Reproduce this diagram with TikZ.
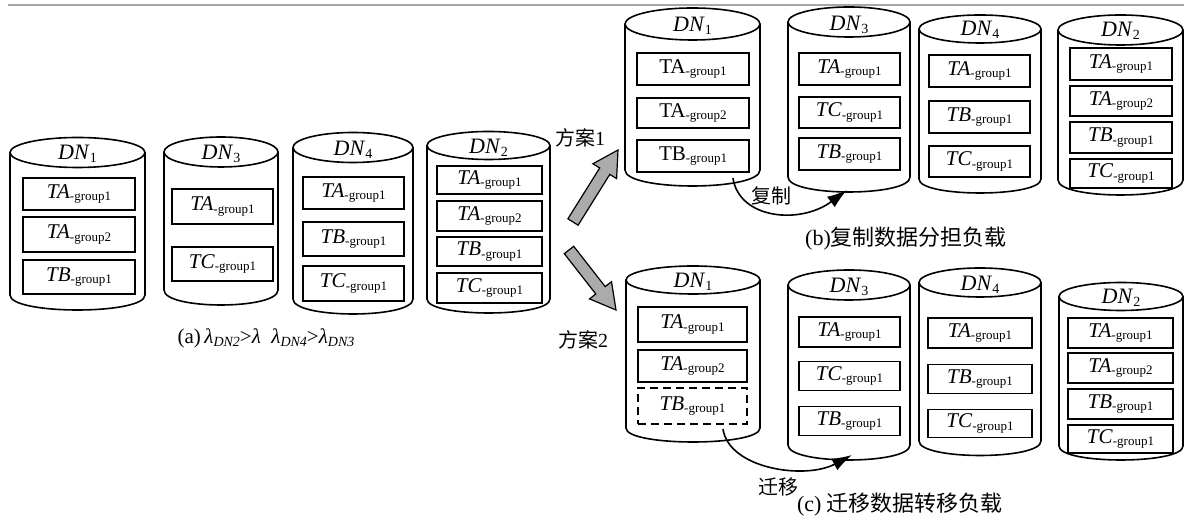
\documentclass[tikz,border=0pt]{standalone}
\usepackage{fontspec}
\setmainfont{Liberation Serif}
\newfontfamily\cjk{Noto Sans CJK SC}
\usetikzlibrary{arrows.meta}

% data node: bottom point name, centre x, x radius, top y, bottom y, y radius
\newcommand{\dbcyl}[6]{%
 \draw[cyl] (#2,#4) ellipse[x radius=#3, y radius=#6];
 \draw[cyl] ({#2-#3},#4) -- ({#2-#3},#5) .. controls ({#2-#3},{#5+4/3*#6}) and ({#2+#3},{#5+4/3*#6}) .. ({#2+#3},#5) -- ({#2+#3},#4);
 \coordinate (#1) at (#2,{#5+#6});}
\newcommand{\dn}[1]{\textit{DN}\raisebox{-1.8pt}{\fontsize{7}{8}\selectfont #1}}
\newcommand{\grp}[2]{#1\raisebox{-1.4pt}{\fontsize{6.5}{7}\selectfont -group#2}}
\newcommand{\lsub}[1]{\raisebox{-1.6pt}{\fontsize{7}{8}\selectfont\itshape #1}}

\begin{document}
\begin{tikzpicture}[x=0.5pt,y=-0.5pt,
 cyl/.style={draw=black,line width=0.8pt},
 blk/.style={draw=black,line width=0.95pt,minimum width=50.5pt,minimum height=16pt,
  inner sep=0pt,font=\fontsize{10.5}{12}\selectfont},
 lbl/.style={inner sep=0pt,font=\fontsize{10}{12}\selectfont},
 dnl/.style={inner sep=0pt,font=\fontsize{11}{13}\selectfont},
 capt/.style={inner sep=0pt,font=\fontsize{11}{13}\selectfont},
 fat/.style={draw=black,line width=0.6pt,fill=black!33,line join=miter},
 flow/.style={line width=0.8pt,-{Latex[length=10pt,width=6.5pt]}}]
\useasboundingbox (0,0) rectangle (1184,522);
\draw[black!35,line width=0.6pt] (8,5) -- (1184,5);

% (a) before balancing
\dbcyl{a1}{77.5}{67.5}{152.5}{295}{15}
\dbcyl{a3}{221}{57}{152}{290}{15}
\dbcyl{a4}{353}{60}{147.5}{299}{15}
\dbcyl{a2}{488.5}{61.5}{145.5}{299}{14}
\node[dnl] (na1) at (77.5,154) {\dn{1}};
\node[dnl] (na3) at (221,154) {\dn{3}};
\node[dnl] (na4) at (353,150) {\dn{4}};
\node[dnl] (na2) at (488.5,148) {\dn{2}};
\node[blk,minimum width=56pt] (a11) at (79,194) {\grp{\textit{TA}}{1}};
\node[blk,minimum width=56pt,minimum height=17.5pt] (a12) at (79,234.5) {\grp{\textit{TA}}{2}};
\node[blk,minimum width=56pt,minimum height=17pt] (a13) at (79,277) {\grp{\textit{TB}}{1}};
\node[blk,minimum height=17.5pt] (a31) at (222.5,206.5) {\grp{\textit{TA}}{1}};
\node[blk,minimum height=17pt] (a32) at (222.5,264) {\grp{\textit{TC}}{1}};
\node[blk] (a41) at (353.5,193) {\grp{\textit{TA}}{1}};
\node[blk,minimum height=17pt] (a42) at (353.5,239) {\grp{\textit{TB}}{1}};
\node[blk,minimum height=17.5pt] (a43) at (353.5,283.5) {\grp{\textit{TC}}{1}};
\node[blk,minimum width=52.5pt,minimum height=14pt] (a21) at (489.5,180) {\grp{\textit{TA}}{1}};
\node[blk,minimum width=52.5pt,minimum height=15pt] (a22) at (489.5,216) {\grp{\textit{TA}}{2}};
\node[blk,minimum width=52.5pt,minimum height=14.5pt] (a23) at (489.5,251.5) {\grp{\textit{TB}}{1}};
\node[blk,minimum width=52.5pt,minimum height=15pt] (a24) at (489.5,288) {\grp{\textit{TC}}{1}};
\node[capt,font=\fontsize{10.5}{12}\selectfont] (capa) at (266,338)
 {(a)\,\textit{λ}\lsub{DN2}>\textit{λ}\ \ \textit{λ}\lsub{DN4}>\textit{λ}\lsub{DN3}};

% two plans
\draw[fat] (567.9,218.8) -- (599.7,168.0) -- (592.9,163.8) -- (618,150) -- (616.6,178.6) -- (609.8,174.4) -- (578.1,225.2) -- cycle;
\draw[fat] (573.7,246.3) -- (605.2,286.6) -- (611.5,281.7) -- (616,310) -- (589.5,298.9) -- (595.8,294.0) -- (564.3,253.7) -- cycle;
\node[lbl] (p1) at (580,138) {{\cjk 方案}1};
\node[lbl] (p2) at (583,340) {{\cjk 方案}2};

% (b) copy
\dbcyl{b1}{692.5}{67.5}{24}{170}{16}
\dbcyl{b3}{849}{61}{22}{177}{15}
\dbcyl{b4}{980}{61}{29}{179}{14}
\dbcyl{b2}{1120.5}{62.5}{30}{180}{15}
\node[dnl] (nb1) at (692.5,26) {\dn{1}};
\node[dnl] (nb3) at (849,25) {\dn{3}};
\node[dnl] (nb4) at (980,30) {\dn{4}};
\node[dnl] (nb2) at (1120.5,31) {\dn{2}};
\node[blk,minimum width=56pt] (b11) at (693,69) {\grp{TA}{1}};
\node[blk,minimum width=56pt,minimum height=15pt] (b12) at (693,113) {\grp{TA}{2}};
\node[blk,minimum width=56pt] (b13) at (693,156) {\grp{TB}{1}};
\node[blk] (b31) at (849.5,69) {\grp{\textit{TA}}{1}};
\node[blk,minimum height=15.5pt] (b32) at (849.5,112.5) {\grp{\textit{TC}}{1}};
\node[blk] (b33) at (849.5,154) {\grp{\textit{TB}}{1}};
\node[blk] (b41) at (979.5,71) {\grp{\textit{TA}}{1}};
\node[blk] (b42) at (979.5,117) {\grp{\textit{TB}}{1}};
\node[blk,minimum height=15.5pt] (b43) at (979.5,161.5) {\grp{\textit{TC}}{1}};
\node[blk,minimum width=51pt] (b21) at (1121,64) {\grp{\textit{TA}}{1}};
\node[blk,minimum width=51pt,minimum height=15pt] (b22) at (1121,101) {\grp{\textit{TA}}{2}};
\node[blk,minimum width=51pt,minimum height=15.5pt] (b23) at (1121,137.5) {\grp{\textit{TB}}{1}};
\node[blk,minimum width=51pt,minimum height=14.5pt] (b24) at (1121,173.5) {\grp{\textit{TC}}{1}};
\draw[flow] ([xshift=-8.5pt,yshift=-2.5pt]b13.south east) .. controls +(6,41) and +(-47,35) .. ([xshift=-1pt,yshift=1pt]b3);
\node[lbl] (cp) at (771,196) {\cjk 复制};
\node[capt] (capb) at (906,239) {(b){\cjk 复制数据分担负载}};

% (c) move
\dbcyl{c1}{693}{67}{280}{428}{14}
\dbcyl{c3}{849}{61}{285}{445}{15}
\dbcyl{c4}{980}{61}{282.5}{441}{14.5}
\dbcyl{c2}{1121}{62}{296.5}{446}{14}
\node[dnl] (nc1) at (693,282) {\dn{1}};
\node[dnl] (nc3) at (849,287) {\dn{3}};
\node[dnl] (nc4) at (980,285) {\dn{4}};
\node[dnl] (nc2) at (1121,298) {\dn{2}};
\node[blk,minimum width=54.5pt,minimum height=17.5pt] (c11) at (692.5,324.5) {\grp{\textit{TA}}{1}};
\node[blk,minimum width=54.5pt] (c12) at (692.5,366) {\grp{\textit{TA}}{2}};
\node[blk,minimum width=54.5pt,minimum height=18pt,dash pattern=on 4pt off 2.5pt] (c13) at (692.5,406) {\grp{\textit{TB}}{1}};
\node[blk,minimum height=15pt] (c31) at (849.5,332) {\grp{\textit{TA}}{1}};
\node[blk,minimum height=14.5pt] (c32) at (849.5,376) {\grp{\textit{TC}}{1}};
\node[blk,minimum height=14.5pt] (c33) at (849.5,421) {\grp{\textit{TB}}{1}};
\node[blk,minimum width=52pt,minimum height=15pt] (c41) at (980,333) {\grp{\textit{TA}}{1}};
\node[blk,minimum width=52pt,minimum height=14.5pt] (c42) at (980,379) {\grp{\textit{TB}}{1}};
\node[blk,minimum width=52pt,minimum height=14pt] (c43) at (980,423.5) {\grp{\textit{TC}}{1}};
\node[blk,minimum width=52.5pt,minimum height=15pt] (c21) at (1120.5,333) {\grp{\textit{TA}}{1}};
\node[blk,minimum width=52.5pt,minimum height=15pt] (c22) at (1120.5,368) {\grp{\textit{TA}}{2}};
\node[blk,minimum width=52.5pt,minimum height=15pt] (c23) at (1120.5,404) {\grp{\textit{TB}}{1}};
\node[blk,minimum width=52.5pt,minimum height=14pt] (c24) at (1120.5,439) {\grp{\textit{TC}}{1}};
\draw[flow] ([xshift=-12.5pt,yshift=-2pt]c13.south east) .. controls +(6,40) and +(-47,25) .. ([xshift=1.5pt,yshift=2.5pt]c3);
\node[lbl] (mv) at (778,487) {\cjk 迁移};
\node[capt] (capc) at (900,505) {(c) {\cjk 迁移数据转移负载}};
\end{tikzpicture}
\end{document}
